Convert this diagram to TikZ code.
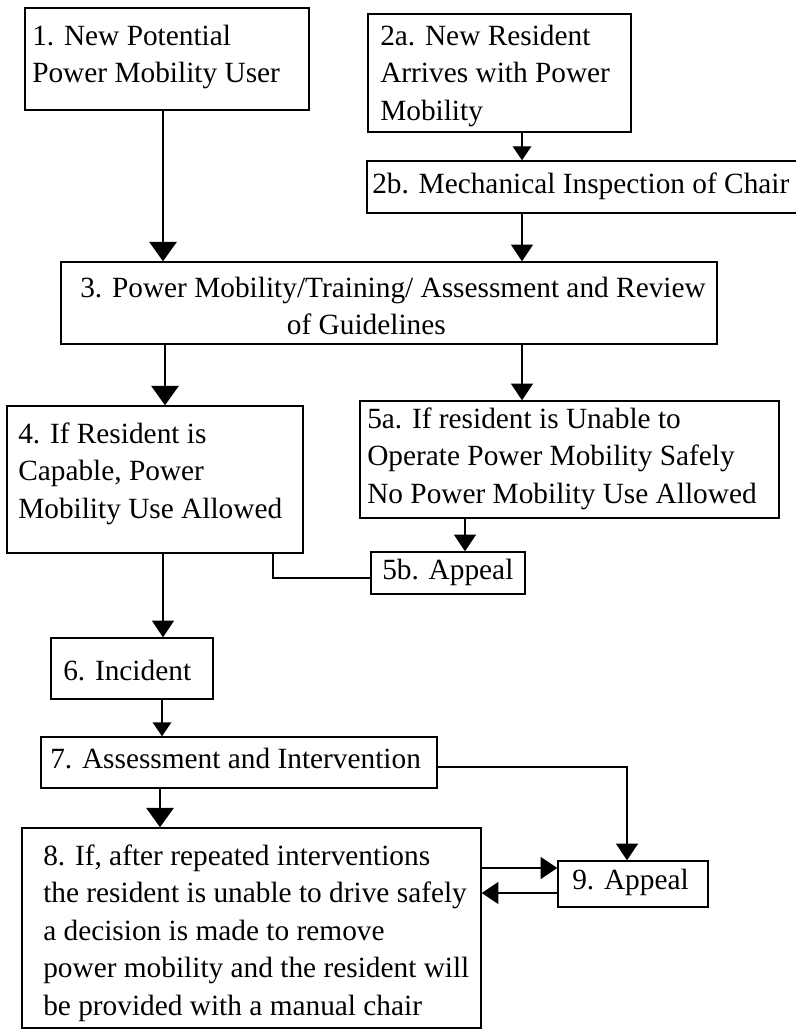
\documentclass[tikz,border=0pt]{standalone}
\usepackage{fontspec}
\setmainfont{Liberation Serif}
\usetikzlibrary{arrows.meta,fit}
\tikzset{
  box/.style={draw, line width=1.1pt, inner sep=0pt},
  txt/.style={inner sep=0pt, anchor=north west, align=left, font=\fontsize{22pt}{28.1pt}\selectfont},
  conn/.style={line width=1.1pt},
  arrbig/.style={conn, -{Triangle[length=14.5pt,width=20.5pt]}},
  arrmed/.style={conn, -{Triangle[length=12.5pt,width=16.5pt]}},
  arrsmall/.style={conn, -{Triangle[length=10.5pt,width=14pt]}},
}
\begin{document}
\begin{tikzpicture}[x=0.75pt,y=-0.75pt]
\useasboundingbox (0,0) rectangle (795,1030);
% boxes
\node[box, fit={(25,8) (309,110)}] (b1) {};
\node[box, fit={(368,14) (631,132)}] (b2a) {};
\node[box, fit={(367,161) (810,213)}] (b2b) {};
\node[box, fit={(61,262) (717,344)}] (b3) {};
\node[box, fit={(7,406) (303,553)}] (b4) {};
\node[box, fit={(360,401) (779,518)}] (b5a) {};
\node[box, fit={(371,552) (525,594)}] (b5b) {};
\node[box, fit={(51,638) (213,699)}] (b6) {};
\node[box, fit={(41,737) (437,788)}] (b7) {};
\node[box, fit={(22,828) (481,1028)}] (b8) {};
\node[box, fit={(558,861) (708,907)}] (b9) {};
% texts
\node[txt] (t1) at (32,19) {\strut 1. New Potential\\Power Mobility User};
\node[txt] (t2a) at (380,19) {\strut 2a. New Resident\\Arrives with Power\\Mobility};
\node[txt] (t2b) at (372,167) {\strut 2b. Mechanical Inspection of Chair};
\node[txt] (t3) at (80,271) {\strut 3. Power Mobility/Training/ Assessment and Review\\\hspace*{155pt}of Guidelines};
\node[txt] (t4) at (18,417) {\strut 4. If Resident is\\Capable, Power\\Mobility Use Allowed};
\node[txt] (t5a) at (367,402) {\strut 5a. If resident is Unable to\\Operate Power Mobility Safely\\No Power Mobility Use Allowed};
\node[txt] (t5b) at (382,553) {\strut 5b. Appeal};
\node[txt] (t6) at (63,654) {\strut 6. Incident};
\node[txt] (t7) at (50,742) {\strut 7. Assessment and Intervention};
\node[txt] (t8) at (43,839) {\strut 8. If, after repeated interventions\\the resident is unable to drive safely\\a decision is made to remove\\power mobility and the resident will\\be provided with a manual chair};
\node[txt] (t9) at (572,863) {\strut 9. Appeal};
% connectors
\draw[arrbig] (b1.south -| 163,0) -- (163,0 |- b3.north);
\draw[arrsmall] (b2a.south -| 522,0) -- (522,0 |- b2b.north);
\draw[arrmed] (b2b.south -| 522,0) -- (522,0 |- b3.north);
\draw[arrbig] (b3.south -| 165,0) -- (165,0 |- b4.north);
\draw[arrmed] (b3.south -| 522,0) -- (522,0 |- b5a.north);
\draw[arrmed] (b5a.south -| 465,0) -- (465,0 |- b5b.north);
\draw[conn] (b4.south -| 273,0) |- (b5b.west |- 0,578);
\draw[arrmed] (b4.south -| 163,0) -- (163,0 |- b6.north);
\draw[arrsmall] (b6.south -| 162,0) -- (162,0 |- b7.north);
\draw[arrbig] (b7.south -| 160,0) -- (160,0 |- b8.north);
\draw[arrmed] (b7.east |- 0,767) -| (b9.north -| 627,0);
\draw[arrmed] (b8.east |- 0,868) -- (b9.west |- 0,868);
\draw[arrmed] (b9.west |- 0,893) -- (b8.east |- 0,893);
\end{tikzpicture}
\end{document}
